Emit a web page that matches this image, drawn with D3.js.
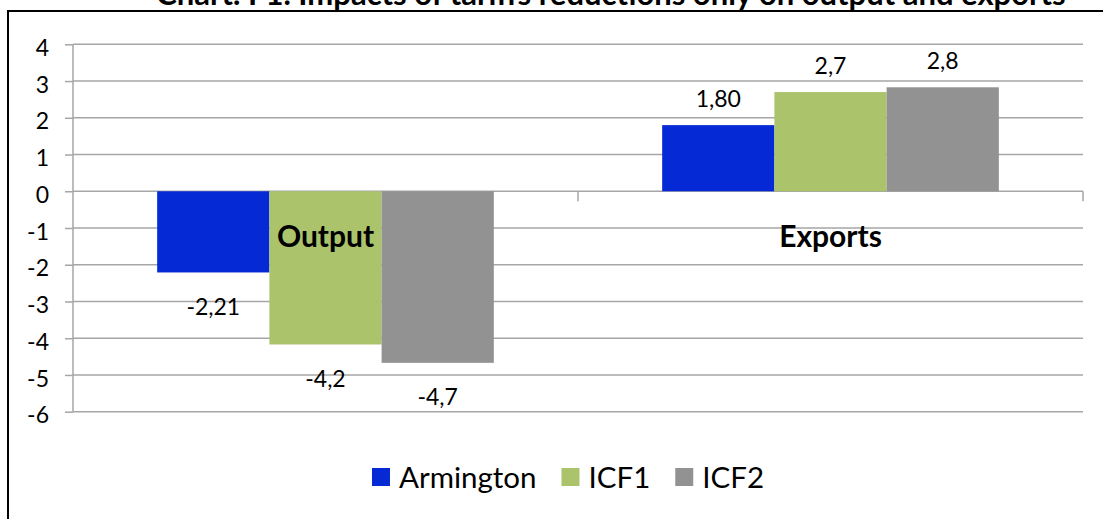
<!DOCTYPE html>
<html>
<head>
<meta charset="utf-8">
<script src="https://cdn.jsdelivr.net/npm/d3@7"></script>
<style>
  html, body { margin: 0; padding: 0; background: #fff; }
  svg { display: block; }
</style>
</head>
<body>
<svg id="chart" width="1103" height="519"></svg>
<script>
// data
const title = "Chart. F1. Impacts of tariffs reductions only on output and exports";
const categories = ["Output", "Exports"];
const series = ["Armington", "ICF1", "ICF2"];
const armington = [-2.21, 1.80];
const icf1 = [-4.17, 2.70];
const icf2 = [-4.67, 2.83];
const decimals = [2, 1, 1];
const yTicks = [4, 3, 2, 1, 0, -1, -2, -3, -4, -5, -6];
const colors = ["#0529d4", "#abc46c", "#929292"];

const values = [armington, icf1, icf2];
const font = "Lato, 'Open Sans', sans-serif";

// comma decimal, plain hyphen minus
const loc = d3.formatLocale({ decimal: ",", thousands: ".", grouping: [3], currency: ["", ""], minus: "-" });

const svg = d3.select("#chart");

// outer frame (runs off the right and bottom edges)
svg.append("rect")
  .attr("x", 8).attr("y", 11).attr("width", 1300).attr("height", 700)
  .attr("fill", "#fff").attr("stroke", "#000").attr("stroke-width", 2);

// title sits partly above the page, as in the source
svg.append("text")
  .attr("x", 611).attr("y", 5)
  .attr("text-anchor", "middle")
  .attr("font-family", font).attr("font-size", 31).attr("font-weight", 700)
  .attr("fill", "#000")
  .text(title);

const plot = { left: 73, right: 1083, top: 44.3, bottom: 411.7 };

const y = d3.scaleLinear().domain([-6, 4]).range([plot.bottom, plot.top]);
const x0 = d3.scaleBand().domain(categories).range([plot.left, plot.right]);
const x1 = d3.scaleBand().domain(series).range([0, x0.bandwidth()]).paddingOuter(0.75);

const gridCol = "#a6a6a6";

// horizontal grid
svg.append("g")
  .selectAll("line")
  .data(yTicks)
  .join("line")
  .attr("x1", plot.left).attr("x2", plot.right)
  .attr("y1", d => y(d)).attr("y2", d => y(d))
  .attr("stroke", gridCol).attr("stroke-width", 1.5);

// y axis
const yAxis = svg.append("g")
  .attr("transform", `translate(${plot.left},0)`)
  .call(d3.axisLeft(y).tickValues(yTicks).tickSize(8).tickPadding(16).tickFormat(loc.format("d")));
yAxis.select(".domain").attr("stroke", gridCol).attr("stroke-width", 1.5).attr("d", `M0,${plot.top}V${plot.bottom}`);
yAxis.selectAll(".tick line").attr("stroke", gridCol).attr("stroke-width", 1.5);
yAxis.selectAll(".tick text")
  .attr("font-family", font).attr("font-size", 23).attr("fill", "#000").attr("dy", "0.48em");

// category ticks on the zero line
svg.append("g")
  .selectAll("line")
  .data(categories)
  .join("line")
  .attr("x1", d => x0(d) + x0.bandwidth()).attr("x2", d => x0(d) + x0.bandwidth())
  .attr("y1", y(0)).attr("y2", y(0) + 10)
  .attr("stroke", gridCol).attr("stroke-width", 1.5);

// bars
const groups = svg.append("g")
  .selectAll("g")
  .data(categories)
  .join("g")
  .attr("transform", d => `translate(${x0(d)},0)`);

const cells = groups.selectAll("g")
  .data((c, ci) => series.map((s, si) => ({ s, si, v: values[si][ci] })))
  .join("g");

cells.append("rect")
  .attr("x", d => x1(d.s))
  .attr("width", x1.bandwidth())
  .attr("y", d => y(Math.max(0, d.v)))
  .attr("height", d => Math.abs(y(d.v) - y(0)))
  .attr("fill", d => colors[d.si]);

cells.append("text")
  .attr("x", d => x1(d.s) + x1.bandwidth() / 2)
  .attr("y", d => d.v >= 0 ? y(d.v) - 26 : y(d.v) + 34)
  .attr("dy", "0.35em")
  .attr("text-anchor", "middle")
  .attr("font-family", font).attr("font-size", 23).attr("fill", "#000")
  .text(d => loc.format(`.${decimals[d.si]}f`)(d.v));

// category labels
svg.append("g")
  .selectAll("text")
  .data(categories)
  .join("text")
  .attr("x", d => x0(d) + x0.bandwidth() / 2)
  .attr("y", 236)
  .attr("dy", "0.35em")
  .attr("text-anchor", "middle")
  .attr("font-family", font).attr("font-size", 30).attr("font-weight", 700).attr("fill", "#000")
  .text(d => d);

// legend
const legend = svg.append("g");
const items = legend.selectAll("g")
  .data(series)
  .join("g");
items.append("rect")
  .attr("width", 18).attr("height", 18)
  .attr("fill", (d, i) => colors[i]);
items.append("text")
  .attr("x", 27).attr("y", 9).attr("dy", "0.36em")
  .attr("font-family", font).attr("font-size", 29.5).attr("fill", "#000")
  .text(d => d);

let lx = 0;
items.each(function() {
  const w = 27 + this.querySelector("text").getComputedTextLength();
  d3.select(this).attr("transform", `translate(${lx},0)`);
  lx += w + 25;
});
lx -= 25;
legend.attr("transform", `translate(${568 - lx / 2},468)`);
</script>
</body>
</html>
